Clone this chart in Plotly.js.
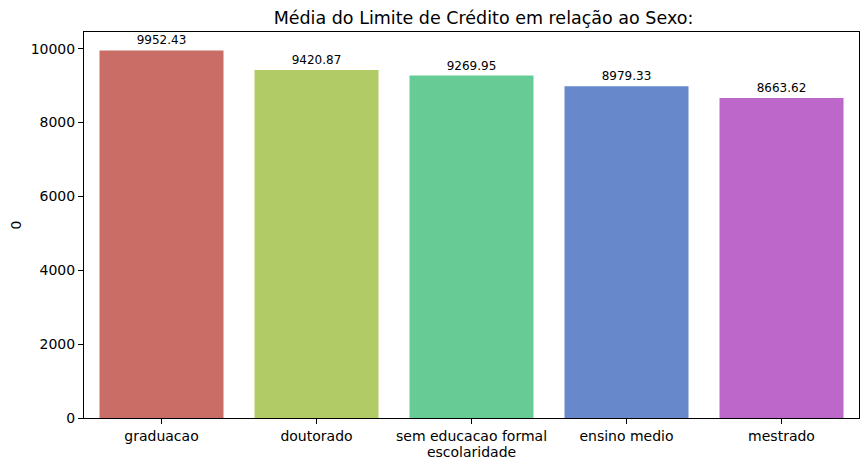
<!DOCTYPE html>
<html>
<head>
<meta charset="utf-8">
<script src="https://cdn.plot.ly/plotly-3.0.1.min.js"></script>
<style>html,body{margin:0;padding:0;background:#fff;}#chart{width:868px;height:471px;}</style>
</head>
<body>
<div id="chart"></div>
<script>
const categories = ["graduacao", "doutorado", "sem educacao formal", "ensino medio", "mestrado"];
const values = [9952.43, 9420.87, 9269.95, 8979.33, 8663.62];
const colors = ["#cb6d67", "#b1cb67", "#67cb95", "#6789cb", "#bd67cb"];

const font = "DejaVu Sans, sans-serif";
const trace = {
  type: "bar",
  x: categories,
  y: values,
  width: 0.8,
  marker: {color: colors, line: {width: 0}},
  text: values.map(v => v.toFixed(2)),
  textposition: "outside",
  textfont: {family: font, size: 12, color: "#000"},
  cliponaxis: false,
  hoverinfo: "x+y"
};
const layout = {
  width: 868, height: 471,
  margin: {l: 84, r: 9, t: 32, b: 53},
  paper_bgcolor: "#fff", plot_bgcolor: "#fff",
  font: {family: font, color: "#000", size: 14},
  title: {text: "Média do Limite de Crédito em relação ao Sexo:", x: 0.557, xanchor: "center", y: 0.963, yanchor: "middle", font: {family: font, size: 17.5, color: "#000"}},
  bargap: 0.2,
  showlegend: false,
  xaxis: {
    title: {text: "escolaridade", font: {family: font, size: 14}, standoff: 3},
    showline: true, linecolor: "#000", linewidth: 1, mirror: true,
    ticks: "outside", ticklen: 5, tickcolor: "#000",
    showgrid: false, zeroline: false,
    tickfont: {family: font, size: 14}
  },
  yaxis: {
    title: {text: "0", font: {family: font, size: 14}, standoff: 5},
    range: [0, 10450],
    tickvals: [0, 2000, 4000, 6000, 8000, 10000],
    ticktext: ["0", "2000", "4000", "6000", "8000", "10000"],
    showline: true, linecolor: "#000", linewidth: 1, mirror: true,
    ticks: "outside", ticklen: 5, tickcolor: "#000",
    showgrid: false, zeroline: false,
    tickfont: {family: font, size: 14}
  }
};
Plotly.newPlot("chart", [trace], layout, {displayModeBar: false, staticPlot: true});
</script>
</body>
</html>
